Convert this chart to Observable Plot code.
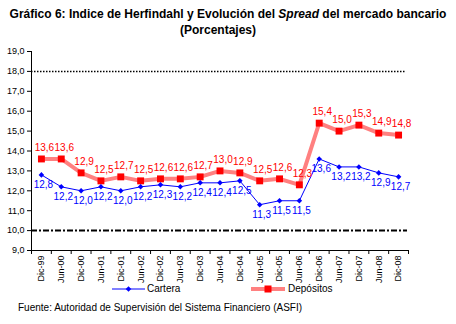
<!DOCTYPE html>
<html><head><meta charset="utf-8">
<script src="https://cdn.jsdelivr.net/npm/d3@7"></script>
<script src="https://cdn.jsdelivr.net/npm/@observablehq/plot@0.6"></script>
<style>
body{margin:0;width:456px;height:324px;position:relative;background:#fff;font-family:"Liberation Sans",Arial,sans-serif;overflow:hidden;color:#000}
#title{position:absolute;top:6px;left:0;width:456px;text-align:center;font-weight:bold;font-size:12px;line-height:16px;white-space:nowrap}
#title span{position:relative;left:-10px}
#chart{position:absolute;top:38px;left:0}
.leg{position:absolute;font-size:10px;line-height:10px}
#src{position:absolute;left:18px;top:302px;font-size:10px;line-height:12px;white-space:nowrap}
</style></head>
<body>
<div id="title">Gráfico 6: Indice de Herfindahl y Evolución del <i>Spread</i> del mercado bancario<br><span>(Porcentajes)</span></div>
<div id="chart"></div>
<svg class="leg" style="left:112px;top:284px" width="34" height="10"><line x1="0" x2="33" y1="5" y2="5" stroke="#0000ff" stroke-width="1"/><path d="M16.5,2.2L19.3,5L16.5,7.8L13.7,5Z" fill="#0000ff"/></svg>
<div class="leg" style="left:147px;top:284px">Cartera</div>
<svg class="leg" style="left:251px;top:284px" width="35" height="10"><line x1="0" x2="34" y1="5" y2="5" stroke="#ff8080" stroke-width="4"/><rect x="13.5" y="1.5" width="7" height="7" fill="#ff0000"/></svg>
<div class="leg" style="left:288px;top:284px">Depósitos</div>
<div id="src">Fuente: Autoridad de Supervisión del Sistema Financiero (ASFI)</div>
<script>
const cats = ["Dic-99","Jun-00","Dic-00","Jun-01","Dic-01","Jun-02","Dic-02","Jun-03","Dic-03","Jun-04","Dic-04","Jun-05","Dic-05","Jun-06","Dic-06","Jun-07","Dic-07","Jun-08","Dic-08"];
const cartera = [12.8,12.2,12.0,12.2,12.0,12.2,12.3,12.2,12.4,12.4,12.5,11.3,11.5,11.5,13.6,13.2,13.2,12.9,12.7];
const depositos = [13.6,13.6,12.9,12.5,12.7,12.5,12.6,12.6,12.7,13.0,12.9,12.5,12.6,12.3,15.4,15.0,15.3,14.9,14.8];
const yTicks = [9,10,11,12,13,14,15,16,17,18,19];
const refUpper = 18;
const refLower = 10;

const fmt = v => v.toFixed(1).replace(".", ",");
const idx = cats.map((_, i) => i);
const rows = idx.map(i => ({i, c: cartera[i], d: depositos[i]}));
const bounds = d3.range(0, cats.length + 1).map(i => i - 0.5);

const chart = Plot.plot({
  width: 456, height: 245,
  marginTop: 13, marginBottom: 33, marginLeft: 31, marginRight: 48,
  style: {fontFamily: "Liberation Sans, Arial, sans-serif", fontSize: "9px", background: "white", color: "black"},
  x: {domain: [-0.5, cats.length - 0.5], axis: null, label: null},
  y: {domain: [9, 19], axis: null, label: null},
  marks: [
    Plot.ruleY([refUpper], {x1: -0.5, x2: cats.length - 0.6, stroke: "black", strokeWidth: 1.5, strokeDasharray: "1.5,1.5"}),
    Plot.ruleY([refLower], {x1: -0.5, x2: cats.length - 0.55, stroke: "black", strokeWidth: 2, strokeDasharray: "6,2,2,2"}),
    Plot.axisY(yTicks, {tickSize: 4, tickPadding: 3, tickFormat: fmt, fontSize: 9, label: null}),
    Plot.axisX(bounds, {tickSize: 4, tickFormat: () => "", label: null}),
    Plot.axisX(idx, {tickSize: 0, tickPadding: 5, tickRotate: -90, tickFormat: i => cats[i], fontSize: 9, label: null}),
    Plot.ruleX([-0.5], {stroke: "black"}),
    Plot.ruleY([9], {stroke: "black"}),
    Plot.line(rows, {x: "i", y: "d", stroke: "#ff8080", strokeWidth: 4}),
    Plot.dot(rows, {x: "i", y: "d", symbol: "square", r: 3.9, fill: "#ff0000", stroke: "none"}),
    Plot.line(rows, {x: "i", y: "c", stroke: "#0000ff", strokeWidth: 1}),
    Plot.dot(rows, {x: "i", y: "c", symbol: "diamond2", r: 2.5, fill: "#0000ff", stroke: "none"}),
    Plot.text(rows, {x: "i", y: "d", text: d => fmt(d.d), dx: 3, dy: -11, fill: "#ff0000", fontSize: 10}),
    Plot.text(rows, {x: "i", y: "c", text: d => fmt(d.c), dx: 2, dy: 10, fill: "#0000ff", fontSize: 10})
  ]
});
document.getElementById("chart").appendChild(chart);
</script>
</body></html>
